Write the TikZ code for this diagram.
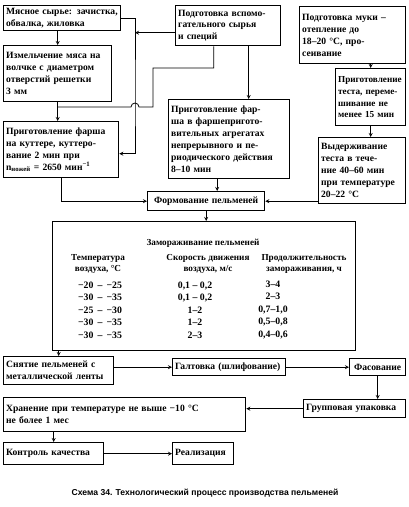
\documentclass[tikz,border=0pt]{standalone}
\usepackage{fontspec}
\setmainfont{Liberation Serif}
\newfontfamily\capfont{Liberation Sans}
\usetikzlibrary{arrows, positioning}

\begin{document}
\begin{tikzpicture}[
        x=1pt, y=-1pt,
        block/.style={rectangle, draw, line width=1.3pt, anchor=north west, align=left, inner xsep=2.5pt, inner ysep=2pt, font=\fontsize{9.6}{11.9}\selectfont\bfseries},
        cell/.style={align=center, inner sep=0pt, font=\fontsize{9.2}{10.5}\selectfont\bfseries},
        arrow/.style={-stealth, thick},
        line/.style={thick}
    ]
        \useasboundingbox (0,0) rectangle (409,507);

        % Блоки: мясо и вспомогательное сырье
        \node (raw) [block, text width=112pt, minimum height=25pt] at (3,5) {Мясное сырье: зачистка,\\обвалка, жиловка};
        \node (mince) [block, text width=103pt, minimum height=56pt] at (3,45) {Измельчение мяса на\\волчке с диаметром\\отверстий решетки\\3 мм};
        \node (cutter) [block, text width=110pt, minimum height=56pt] at (3,121) {Приготовление фарша\\на куттере, куттеро-\\вание 2 мин при\\n\textsubscript{ножей} = 2650 мин\textsuperscript{−1}};
        \node (spice) [block, text width=100pt, minimum height=40pt] at (175,5) {Подготовка вспомо-\\гательного сырья\\и специй};
        \node (agg) [block, text width=116pt, minimum height=79pt] at (168,99) {Приготовление фар-\\ша в фаршепригото-\\вительных агрегатах\\непрерывного и пе-\\риодического действия\\8–10 мин};

        % Блоки: тесто
        \node (flour) [block, text width=101pt, minimum height=57pt] at (299,6) {Подготовка муки –\\отепление до\\18–20 °С, про-\\сеивание};
        \node (dough) [block, text width=65pt, minimum height=57pt, font=\fontsize{9.2}{11.9}\selectfont\bfseries] at (335,68) {Приготовление\\теста, переме-\\шивание не\\менее 15 мин};
        \node (rest) [block, text width=82pt, minimum height=66pt] at (318,137) {Выдерживание\\теста в тече-\\ние 40–60 мин\\при температуре\\20–22 °С};

        % Формование и замораживание
        \node (form) [block, text width=112pt, minimum height=19pt, align=center] at (147,191) {Формование пельменей};
        \node (freeze) [block, minimum width=303pt, minimum height=129pt] at (52,221) {};
        \node (ftitle) [cell] at (203,243) {Замораживание пельменей};
        \node (h1) [cell] at (98,264) {Температура\\воздуха, °С};
        \node (h2) [cell] at (208,264) {Скорость движения\\воздуха, м/с};
        \node (h3) [cell] at (304,264) {Продолжительность\\замораживания, ч};
        \node (d1) [cell, font=\fontsize{9.8}{12.5}\selectfont\bfseries] at (100,310) {−20 \,–\, −25\\−30 \,–\, −35\\−25 \,–\, −30\\−30 \,–\, −35\\−30 \,–\, −35};
        \node (d2) [cell, font=\fontsize{9.8}{12.5}\selectfont\bfseries] at (195,310) {0,1 – 0,2\\0,1 – 0,2\\1–2\\1–2\\2–3};
        \node (d3) [cell, font=\fontsize{9.8}{12.5}\selectfont\bfseries] at (273,310) {3–4\\2–3\\0,7–1,0\\0,5–0,8\\0,4–0,6};

        % Обработка и реализация
        \node (strip) [block, text width=105pt, minimum height=28pt] at (3,356) {Снятие пельменей с\\металлической ленты};
        \node (tumble) [block, text width=108pt, minimum height=17pt] at (172,358) {Галтовка (шлифование)};
        \node (pack) [block, text width=51pt, minimum height=17pt, align=center] at (349,358) {Фасование};
        \node (group) [block, text width=97pt, minimum height=18pt] at (303,399) {Групповая упаковка};
        \node (store) [block, text width=237pt, minimum height=34pt] at (3,397) {Хранение при температуре не выше −10 °С\\не более 1 мес};
        \node (qc) [block, text width=95pt, minimum height=22pt] at (3,442) {Контроль качества};
        \node (sale) [block, text width=56pt, minimum height=22pt] at (172,442) {Реализация};

        \node (caption) [font=\capfont\bfseries\fontsize{8.6}{10}\selectfont] at (205,493) {Схема 34. Технологический процесс производства пельменей};

        % Точки изломов линий
        \coordinate (bus) at (135,100);
        \coordinate (bend) at (153,68);
        \coordinate (hop) at (153,107);
        \coordinate (hopr) at (139,107);
        \coordinate (join) at (mince.south |- hop);
        \coordinate (sw) at ([yshift=-7pt]spice.west);
        \coordinate (sl) at ([xshift=-14.5pt]spice.south);
        \coordinate (sr) at ([xshift=20.5pt]spice.south);
        \coordinate (ce) at ([yshift=-4pt]cutter.east);
        \coordinate (ae) at ([xshift=-12pt]agg.south);

        % Стрелки
        \draw [arrow] (raw.south -| mince.north) -- (mince.north);
        \draw [arrow] (raw.east) -| (bus) |- (ce);
        \draw [arrow] (sw) -- (sw -| bus);
        \draw [line] (sl) |- (bend) -- (hop) -- (hopr) arc[start angle=0, end angle=180, radius=4pt] -- (join);
        \draw [arrow] (mince.south) -- (mince.south |- cutter.north);
        \draw [arrow] (sr) -- (sr |- agg.north);
        \draw [arrow] (cutter.south) |- (form.west);
        \draw [arrow] (ae) -- (ae |- form.north);
        \draw [arrow] (flour.south -| dough.north) -- (dough.north);
        \draw [arrow] (dough.south) -- (dough.south |- rest.north);
        \draw [arrow] (rest.west |- form.east) -- (form.east);
        \draw [arrow] (form.south) -- (form.south |- freeze.north);
        \draw [arrow] (freeze.south -| strip.north) -- (strip.north);
        \draw [arrow] (strip.east |- tumble.west) -- (tumble.west);
        \draw [arrow] (tumble.east) -- (pack.west);
        \draw [arrow] (pack.south) -- (pack.south |- group.north);
        \draw [arrow] (group.west) -- (group.west -| store.east);
        \draw [arrow] (store.south -| qc.north) -- (qc.north);
        \draw [arrow] (qc.east |- sale.west) -- (sale.west);
\end{tikzpicture}
\end{document}
